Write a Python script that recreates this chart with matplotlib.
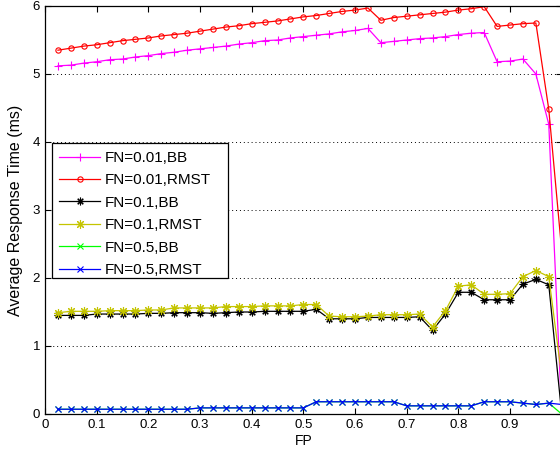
import numpy as np
import matplotlib
matplotlib.use("Agg")
import matplotlib.pyplot as plt
from matplotlib.patches import Rectangle

plt.rcParams['font.family'] = ['Liberation Sans', 'DejaVu Sans']

fp = [round(0.025 * i, 3) for i in range(1, 40)] + [1.0]

fn001_bb = [5.12, 5.13, 5.16, 5.18, 5.21, 5.22, 5.25, 5.27, 5.30, 5.32,
            5.35, 5.37, 5.39, 5.41, 5.44, 5.46, 5.49, 5.50, 5.53,
            5.55, 5.57, 5.59, 5.62, 5.64, 5.67, 5.46, 5.48, 5.50, 5.52,
            5.53, 5.55, 5.58, 5.60, 5.61, 5.18, 5.19, 5.22, 5.00, 4.26,
            0.0]
fn001_rmst = [5.35, 5.38, 5.41, 5.43, 5.46, 5.49, 5.51, 5.53, 5.56, 5.58,
              5.60, 5.63, 5.66, 5.69, 5.71, 5.74, 5.76, 5.78, 5.81,
              5.84, 5.86, 5.89, 5.92, 5.94, 5.97, 5.79, 5.83, 5.85, 5.87,
              5.89, 5.91, 5.94, 5.96, 5.99, 5.70, 5.72, 5.74, 5.75, 4.48,
              2.4]
fn01_bb = [1.45, 1.45, 1.45, 1.47, 1.47, 1.47, 1.47, 1.48, 1.48, 1.49,
           1.49, 1.49, 1.48, 1.49, 1.50, 1.50, 1.51, 1.51, 1.51,
           1.51, 1.54, 1.40, 1.40, 1.40, 1.42, 1.42, 1.42, 1.42, 1.43,
           1.23, 1.47, 1.79, 1.79, 1.68, 1.68, 1.68, 1.91, 1.98, 1.90,
           0.0]
fn01_rmst = [1.49, 1.51, 1.51, 1.51, 1.52, 1.52, 1.52, 1.53, 1.53, 1.56,
             1.56, 1.56, 1.56, 1.58, 1.58, 1.58, 1.59, 1.59, 1.59,
             1.61, 1.61, 1.44, 1.43, 1.43, 1.44, 1.46, 1.46, 1.46, 1.47,
             1.28, 1.52, 1.88, 1.90, 1.76, 1.76, 1.77, 2.02, 2.11, 2.02,
             0.55]
fn05_rmst = ([0.07] * 11 + [0.09] * 9 + [0.18] * 7 + [0.12] * 6 +
             [0.18] * 3 + [0.16, 0.14, 0.16, 0.14])
fn05_bb = ([0.07] * 11 + [0.09] * 9 + [0.18] * 7 + [0.12] * 6 +
           [0.18] * 3 + [0.16, 0.14, 0.16, 0.0])

labels = ['FN=0.01,BB', 'FN=0.01,RMST', 'FN=0.1,BB', 'FN=0.1,RMST',
          'FN=0.5,BB', 'FN=0.5,RMST']
series = [fn001_bb, fn001_rmst, fn01_bb, fn01_rmst, fn05_bb, fn05_rmst]
colors = ['#ff00ff', '#ff0000', '#000000', '#c4c400', '#00ff00', '#0000ff']
asterisk = (8, 2, 0)
markers = ['+', 'o', asterisk, asterisk, 'x', 'x']
msizes = [5.5, 3.8, 5.5, 6.5, 4.0, 4.0]
xtick_labels = ['0', '0.1', '0.2', '0.3', '0.4', '0.5', '0.6', '0.7',
                '0.8', '0.9', '']

W, H = 560, 454
fig = plt.figure(figsize=(W / 100, H / 100), dpi=100)
ax = fig.add_axes([45 / W, 40 / H, 516.7 / W, 408 / H])

for y, lab, c, m, ms in zip(series, labels, colors, markers, msizes):
    ax.plot(fp, y, color=c, marker=m, markersize=ms, linewidth=0.9,
            markerfacecolor='none' if m == 'o' else c,
            markeredgewidth=0.8, markevery=slice(0, len(fp) - 1), label=lab)

ax.set_xlim(0, 1)
ax.set_ylim(0, 6)
ax.set_xticks(np.arange(0, 1.0001, 0.1))
ax.set_xticklabels(xtick_labels)
ax.set_yticks(range(0, 7))
ax.yaxis.grid(True, linestyle=(0, (1, 3)), color='black', linewidth=0.7)
ax.tick_params(direction='in', top=True, right=True, labelsize=9.5,
               length=4, width=0.8)
for s in ax.spines.values():
    s.set_linewidth(0.9)
ax.set_xlabel('FP', fontsize=10, labelpad=2)
ax.set_ylabel('Average Response Time (ms)', fontsize=11.5, labelpad=7)

# legend frame (MATLAB-style box with extra right padding)
frame = Rectangle((52 / W, (H - 278) / H), 176 / W, 135 / H,
                  transform=fig.transFigure, facecolor='white',
                  edgecolor='black', linewidth=0.9, zorder=4.5)
ax.add_patch(frame)
frame.set_clip_on(False)

leg = ax.legend(loc='upper left', bbox_to_anchor=(59 / W, (H - 151) / H),
                bbox_transform=fig.transFigure, borderaxespad=0,
                fontsize=11, numpoints=1, handlelength=2.7,
                handletextpad=0.3, labelspacing=0.55, borderpad=0,
                frameon=False)
leg.set_zorder(5)

fig.savefig('out.png', dpi=100)
